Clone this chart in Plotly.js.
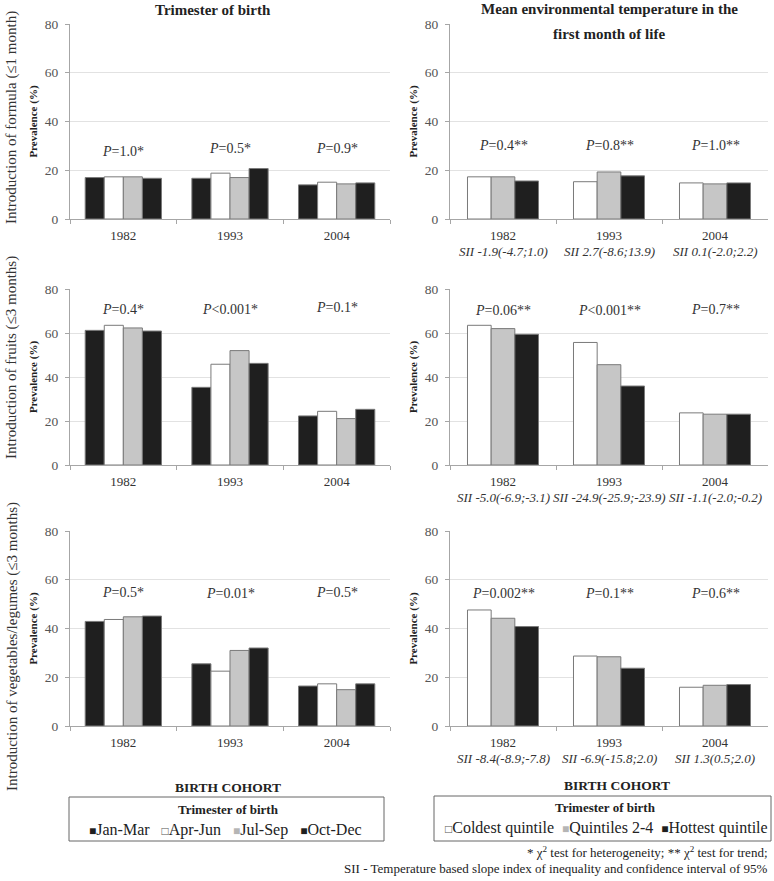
<!DOCTYPE html>
<html>
<head>
<meta charset="utf-8">
<script src="https://cdn.plot.ly/plotly-3.0.1.min.js"></script>
<style>html,body{margin:0;padding:0;background:#fff}#chart{width:774px;height:881px}</style>
</head>
<body>
<div id="chart"></div>
<script>
// ---------------- DATA ----------------
const years = ['1982', '1993', '2004'];
const trimesterNames = ['Jan-Mar', 'Apr-Jun', 'Jul-Sep', 'Oct-Dec'];
const temperatureNames = ['Coldest quintile', 'Quintiles 2-4', 'Hottest quintile'];
const rowLabels = ['Introduction of formula (≤1 month)', 'Introduction of fruits (≤3 months)', 'Introduction of vegetables/legumes (≤3 months)'];

// Formula (≤1 month)
const formulaJanMar = [17.0, 16.7, 14.0];
const formulaAprJun = [17.3, 18.8, 15.1];
const formulaJulSep = [17.3, 17.0, 14.4];
const formulaOctDec = [16.7, 20.7, 14.8];
const formulaColdest = [17.3, 15.3, 14.8];
const formulaMiddle = [17.3, 19.3, 14.4];
const formulaHottest = [15.6, 17.7, 14.8];

// Fruits (≤3 months)
const fruitsJanMar = [61.2, 35.3, 22.3];
const fruitsAprJun = [63.5, 45.8, 24.4];
const fruitsJulSep = [62.3, 52.0, 21.1];
const fruitsOctDec = [60.9, 46.2, 25.3];
const fruitsColdest = [63.5, 55.7, 23.7];
const fruitsMiddle = [62.0, 45.6, 23.1];
const fruitsHottest = [59.4, 35.9, 23.1];

// Vegetables/legumes (≤3 months)
const vegJanMar = [42.9, 25.5, 16.4];
const vegAprJun = [43.7, 22.5, 17.3];
const vegJulSep = [44.8, 31.0, 14.9];
const vegOctDec = [45.1, 32.0, 17.3];
const vegColdest = [47.6, 28.7, 15.9];
const vegMiddle = [44.2, 28.4, 16.7];
const vegHottest = [40.8, 23.7, 17.0];

// P values
const pFormulaTri = ['P=1.0*', 'P=0.5*', 'P=0.9*'];
const pFormulaTemp = ['P=0.4**', 'P=0.8**', 'P=1.0**'];
const pFruitsTri = ['P=0.4*', 'P<0.001*', 'P=0.1*'];
const pFruitsTemp = ['P=0.06**', 'P<0.001**', 'P=0.7**'];
const pVegTri = ['P=0.5*', 'P=0.01*', 'P=0.5*'];
const pVegTemp = ['P=0.002**', 'P=0.1**', 'P=0.6**'];

// Slope index of inequality
const siiFormula = ['SII -1.9(-4.7;1.0)', 'SII 2.7(-8.6;13.9)', 'SII 0.1(-2.0;2.2)'];
const siiFruits = ['SII -5.0(-6.9;-3.1)', 'SII -24.9(-25.9;-23.9)', 'SII -1.1(-2.0;-0.2)'];
const siiVeg = ['SII -8.4(-8.9;-7.8)', 'SII -6.9(-15.8;2.0)', 'SII 1.3(0.5;2.0)'];

// ---------------- STYLE / LAYOUT ----------------
const W = 774, H = 881;
const FONT = 'Liberation Serif, Times New Roman, serif';
const px = v => v / W;
const py = v => 1 - v / H;

const triColors = ['#1f1f1f', '#ffffff', '#c6c6c6', '#1f1f1f'];
const tempColors = ['#ffffff', '#c6c6c6', '#1f1f1f'];
const outline = '#7a7a7a';

const colPx = [[70, 390], [450, 768]];
const rowPx = [[24, 219], [289, 465], [531, 726]];

const triSeries = [
  [formulaJanMar, formulaAprJun, formulaJulSep, formulaOctDec],
  [fruitsJanMar, fruitsAprJun, fruitsJulSep, fruitsOctDec],
  [vegJanMar, vegAprJun, vegJulSep, vegOctDec]
];
const tempSeries = [
  [formulaColdest, formulaMiddle, formulaHottest],
  [fruitsColdest, fruitsMiddle, fruitsHottest],
  [vegColdest, vegMiddle, vegHottest]
];
const pTri = [pFormulaTri, pFruitsTri, pVegTri];
const pTemp = [pFormulaTemp, pFruitsTemp, pVegTemp];
const siiRows = [siiFormula, siiFruits, siiVeg];

// heights (in data units) where P labels sit
const pTriY = [[27.5, 29.1, 29.1], [70.5, 70.9, 71.5], [54.7, 54.2, 54.7]];
const pTempY = [[30, 30, 30], [70.1, 70.1, 70.8], [54.4, 54.4, 54.4]];

const traces = [];
const layout = {
  width: W, height: H,
  margin: {l: 0, r: 0, t: 0, b: 0},
  paper_bgcolor: '#fff', plot_bgcolor: '#fff',
  showlegend: false,
  barmode: 'overlay',
  font: {family: FONT, color: '#333'},
  annotations: [], shapes: []
};

function fmtP(s) {
  return s.replace('<', '&lt;').replace(/^P/, '<i>P</i>');
}

for (let r = 0; r < 3; r++) {
  for (let c = 0; c < 2; c++) {
    const n = r * 2 + c + 1;
    const xn = n === 1 ? 'x' : 'x' + n;
    const yn = n === 1 ? 'y' : 'y' + n;
    const xk = n === 1 ? 'xaxis' : 'xaxis' + n;
    const yk = n === 1 ? 'yaxis' : 'yaxis' + n;

    const series = c === 0 ? triSeries[r] : tempSeries[r];
    const names = c === 0 ? trimesterNames : temperatureNames;
    const colors = c === 0 ? triColors : tempColors;
    const groupFrac = c === 0 ? 0.715 : 0.67;
    const bw = groupFrac / series.length;
    series.forEach((vals, i) => {
      traces.push({
        type: 'bar', x: years, y: vals, name: names[i],
        xaxis: xn, yaxis: yn,
        width: bw, offset: -groupFrac / 2 + i * bw,
        marker: {color: colors[i], line: {color: outline, width: 1}},
        hoverinfo: 'x+y+name'
      });
    });

    layout[xk] = {
      domain: [px(colPx[c][0]), px(colPx[c][1])],
      anchor: yn, type: 'category', range: [-0.5, 2.5], autorange: false,
      showline: true, linecolor: '#a6a6a6', linewidth: 1,
      ticks: 'outside', tickson: 'boundaries', ticklen: 4, tickcolor: '#a6a6a6',
      showgrid: false, zeroline: false,
      tickfont: {family: FONT, size: 13, color: '#333'},
      tickangle: 0,
      ticklabelstandoff: 4,
      fixedrange: true
    };
    layout[yk] = {
      domain: [py(rowPx[r][1]), py(rowPx[r][0])],
      anchor: xn, range: [0, 80], autorange: false, dtick: 20,
      showline: true, linecolor: '#a6a6a6', linewidth: 1,
      ticks: 'outside', ticklen: 4, tickcolor: '#a6a6a6',
      gridcolor: '#e2e2e2', gridwidth: 1, zeroline: false,
      tickfont: {family: FONT, size: 13.5, color: '#555'},
      ticklabelstandoff: 4,
      title: {text: 'Prevalence (%)', font: {family: FONT, size: 11, color: '#222', weight: 'bold'}, standoff: 4},
      fixedrange: true
    };

    // P-value labels (x given as category index)
    const pl = c === 0 ? pTri[r] : pTemp[r];
    const plY = c === 0 ? pTriY[r] : pTempY[r];
    years.forEach((yr, j) => {
      layout.annotations.push({
        xref: xn, yref: yn, x: j, y: plY[j], text: fmtP(pl[j]),
        showarrow: false, xanchor: 'center', yanchor: 'middle',
        font: {family: FONT, size: 14, color: '#333'}
      });
    });

    // SII labels under year
    if (c === 1) {
      years.forEach((yr, j) => {
        layout.annotations.push({
          xref: xn, yref: yn, x: j, y: 0, yshift: -23, text: '<i>' + siiRows[r][j] + '</i>',
          showarrow: false, xanchor: 'center', yanchor: 'top',
          font: {family: FONT, size: 13, color: '#333'}
        });
      });
    }
  }
}

// Row labels (left outer)
const rowLabelCenters = [118, 358, 647];
rowLabels.forEach((t, r) => {
  layout.annotations.push({
    xref: 'paper', yref: 'paper', x: px(12), y: py(rowLabelCenters[r]),
    text: t, textangle: -90, showarrow: false,
    xanchor: 'center', yanchor: 'middle',
    font: {family: FONT, size: 15, color: '#333'}
  });
});

// Column titles
const titleFont = {family: FONT, size: 15, color: '#222', weight: 'bold'};
layout.annotations.push(
  {xref: 'paper', yref: 'paper', x: px(213), y: py(10), text: 'Trimester of birth', showarrow: false, xanchor: 'center', yanchor: 'middle', font: titleFont},
  {xref: 'paper', yref: 'paper', x: px(609), y: py(9), text: 'Mean environmental temperature in the', showarrow: false, xanchor: 'center', yanchor: 'middle', font: titleFont},
  {xref: 'paper', yref: 'paper', x: px(609), y: py(34), text: 'first month of life', showarrow: false, xanchor: 'center', yanchor: 'middle', font: titleFont}
);

// BIRTH COHORT labels
const cohortFont = {family: FONT, size: 13.5, color: '#222', weight: 'bold'};
layout.annotations.push(
  {xref: 'paper', yref: 'paper', x: px(228), y: py(787), text: 'BIRTH COHORT', showarrow: false, xanchor: 'center', yanchor: 'middle', font: cohortFont},
  {xref: 'paper', yref: 'paper', x: px(617), y: py(785), text: 'BIRTH COHORT', showarrow: false, xanchor: 'center', yanchor: 'middle', font: cohortFont}
);

// Legend boxes
layout.shapes.push(
  {type: 'rect', xref: 'paper', yref: 'paper', x0: px(69), x1: px(384), y0: py(841), y1: py(797), line: {color: '#666', width: 1}, fillcolor: 'rgba(0,0,0,0)'},
  {type: 'rect', xref: 'paper', yref: 'paper', x0: px(434), x1: px(771), y0: py(841), y1: py(796), line: {color: '#666', width: 1}, fillcolor: 'rgba(0,0,0,0)'}
);
const legTitleFont = {family: FONT, size: 13, color: '#222', weight: 'bold'};
layout.annotations.push(
  {xref: 'paper', yref: 'paper', x: px(228), y: py(809), text: 'Trimester of birth', showarrow: false, xanchor: 'center', yanchor: 'middle', font: legTitleFont},
  {xref: 'paper', yref: 'paper', x: px(605), y: py(807), text: 'Trimester of birth', showarrow: false, xanchor: 'center', yanchor: 'middle', font: legTitleFont}
);
function sq(color) {
  const glyph = color === '#ffffff' ? '□' : '■';
  const col = color === '#ffffff' ? '#555' : (color === '#c6c6c6' ? '#b5b5b5' : color);
  return '<span style="color:' + col + ';font-size:12px">' + glyph + '</span>';
}
const leftLegend = trimesterNames.map((nm, i) => sq(triColors[i]) + nm).join('   ');
const rightLegend = temperatureNames.map((nm, i) => sq(tempColors[i]) + nm).join('  ');
layout.annotations.push(
  {xref: 'paper', yref: 'paper', x: px(225), y: py(830), text: leftLegend, showarrow: false, xanchor: 'center', yanchor: 'middle', font: {family: FONT, size: 16, color: '#222'}},
  {xref: 'paper', yref: 'paper', x: px(606), y: py(828), text: rightLegend, showarrow: false, xanchor: 'center', yanchor: 'middle', font: {family: FONT, size: 16, color: '#222'}}
);

// Footnotes
layout.annotations.push(
  {xref: 'paper', yref: 'paper', x: px(770), y: py(852), text: '* χ<sup>2</sup> test for heterogeneity; ** χ<sup>2</sup> test for trend;', showarrow: false, xanchor: 'right', yanchor: 'middle', font: {family: FONT, size: 13, color: '#222'}},
  {xref: 'paper', yref: 'paper', x: px(770), y: py(868), text: 'SII - Temperature based slope index of inequality and confidence interval of 95%', showarrow: false, xanchor: 'right', yanchor: 'middle', font: {family: FONT, size: 13, color: '#222'}}
);

Plotly.newPlot('chart', traces, layout, {displayModeBar: false, staticPlot: true});
</script>
</body>
</html>
